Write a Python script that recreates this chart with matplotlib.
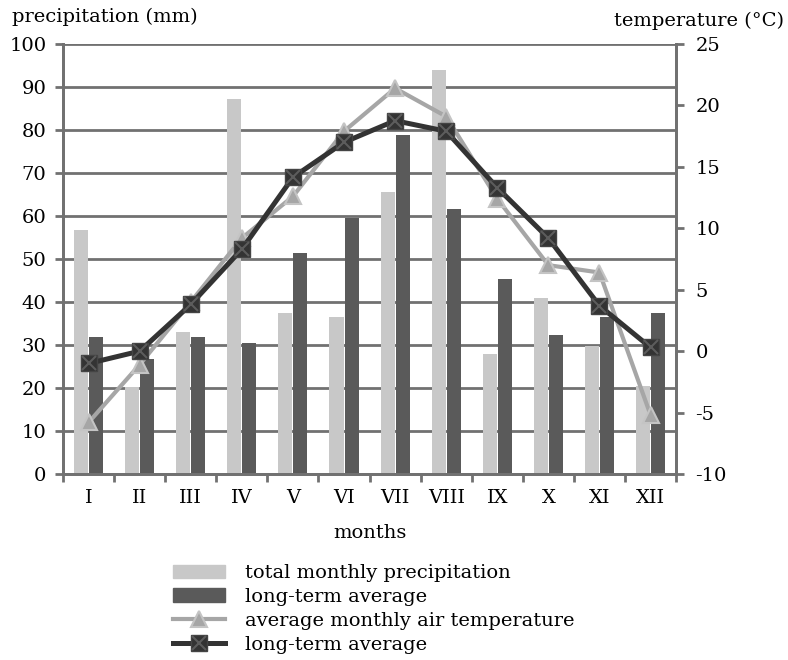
import matplotlib.pyplot as plt
import numpy as np

plt.rcParams['font.family'] = ['DejaVu Serif']
plt.rcParams['axes.unicode_minus'] = False

months = ['I', 'II', 'III', 'IV', 'V', 'VI', 'VII', 'VIII', 'IX', 'X', 'XI', 'XII']
precip_total = [56.7, 20.3, 33.0, 87.2, 37.4, 36.4, 65.6, 94.0, 27.9, 41.0, 29.8, 20.5]
precip_avg = [31.9, 26.7, 31.8, 30.5, 51.3, 59.5, 78.8, 61.6, 45.3, 32.3, 36.6, 37.4]
temp_month = [-5.8, -1.1, 4.0, 9.2, 12.6, 17.9, 21.4, 19.1, 12.4, 7.0, 6.4, -5.2]
temp_avg = [-1.0, 0.0, 3.8, 8.3, 14.15, 17.0, 18.76, 17.9, 13.3, 9.2, 3.7, 0.3]

light_bar = '#c8c8c8'
dark_bar = '#5a5a5a'
light_line = '#a6a6a6'
dark_line = '#333333'
grid_col = '#717171'
fs = 14

fig = plt.figure(figsize=(7.88, 6.6), dpi=100)
ax = fig.add_axes([0.080, 0.2818, 0.778, 0.6515])
ax2 = ax.twinx()

x = np.arange(len(months)) + 0.5
w = 0.275
ax.bar(x - 0.147, precip_total, w, color=light_bar, zorder=2)
ax.bar(x + 0.147, precip_avg, w, color=dark_bar, zorder=2)

ax.set_xlim(0, 12)
ax.set_ylim(0, 100)
ax.set_yticks(np.arange(0, 101, 10))
ax.yaxis.grid(True, color=grid_col, linewidth=2)
ax.set_axisbelow(True)

ax.set_xticks(x)
ax.set_xticklabels(months, fontsize=fs)
ax.set_xticks(np.arange(0, 13), minor=True)
ax.tick_params(axis='x', which='major', length=0, pad=11)
ax.tick_params(axis='x', which='minor', length=6, width=2, color=grid_col)
ax.tick_params(axis='y', length=6, width=2, color=grid_col, labelsize=fs, pad=6)
ax.set_xlabel('months', fontsize=fs, labelpad=12)

ax.spines['top'].set_visible(False)
ax2.spines['top'].set_visible(False)
for s in ['left', 'bottom', 'right']:
    ax.spines[s].set_color(grid_col)
    ax.spines[s].set_linewidth(2)
    ax2.spines[s].set_color(grid_col)
    ax2.spines[s].set_linewidth(2)

l1, = ax2.plot(x, temp_month, color=light_line, linewidth=3, marker='^', markersize=12,
               markerfacecolor=light_line, markeredgecolor='#c4c4c4', markeredgewidth=1.5, zorder=3)
l2, = ax2.plot(x, temp_avg, color=dark_line, linewidth=3.6, marker='s', markersize=12,
               markerfacecolor=dark_line, markeredgecolor='#444444', zorder=4)
l3, = ax2.plot(x, temp_avg, linestyle='none', marker='x', markersize=10,
               markeredgecolor='#5c5c5c', markeredgewidth=1.5, zorder=5)
ax2.set_ylim(-10, 25)
ax2.set_yticks(np.arange(-10, 26, 5))
ax2.tick_params(axis='y', length=6, width=2, color=grid_col, labelsize=fs, pad=8)

fig.text(0.015, 0.975, 'precipitation (mm)', fontsize=fs, va='center', ha='left')
fig.text(0.995, 0.968, 'temperature (°C)', fontsize=fs, va='center', ha='right')

b1 = plt.Rectangle((0, 0), 1, 1, color=light_bar)
b2 = plt.Rectangle((0, 0), 1, 1, color=dark_bar)
fig.legend([b1, b2, l1, (l2, l3)],
           ['total monthly precipitation', 'long-term average',
            'average monthly air temperature', 'long-term average'],
           loc='upper left', bbox_to_anchor=(0.207, 0.160), frameon=False,
           fontsize=fs, handlelength=2.7, handletextpad=1.0, labelspacing=0.3,
           borderpad=0)

fig.savefig('out.png', dpi=100)
